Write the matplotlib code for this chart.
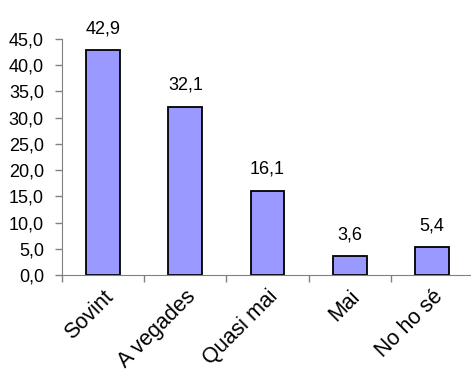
import numpy as np
import matplotlib
matplotlib.use("Agg")
import matplotlib.pyplot as plt

plt.rcParams["font.family"] = ["Liberation Sans", "DejaVu Sans"]

categories = ["Sovint", "A vegades", "Quasi mai", "Mai", "No ho sé"]
values = [42.9, 32.1, 16.1, 3.6, 5.4]
yticks = [0, 5, 10, 15, 20, 25, 30, 35, 40, 45]

FS = 13

fig = plt.figure(figsize=(4.71, 3.73), dpi=100)
ax = fig.add_axes([62 / 471, 98 / 373, 411 / 471, 236 / 373])

x = np.arange(len(categories))
ax.bar(x, values, width=0.41, color="#9999FF", edgecolor="black", linewidth=1.3)

# value labels above the bars, decimal comma
for xi, v in zip(x, values):
    ax.annotate(f"{v:.1f}".replace(".", ","), (xi, v), xytext=(0, 12),
                textcoords="offset points", ha="center", va="baseline", fontsize=FS)

ax.set_xlim(-0.5, len(categories) - 0.5)
ax.set_ylim(0, 45)
ax.set_yticks(yticks)
ax.set_yticklabels([f"{t:.1f}".replace(".", ",") for t in yticks], fontsize=FS)

ax.set_xticks(x)
ax.set_xticklabels(categories, rotation=45, ha="right", rotation_mode="anchor", fontsize=15.5)
ax.set_xticks(np.arange(len(categories) + 1) - 0.5, minor=True)
ax.tick_params(axis="x", which="major", length=0, pad=8)
ax.tick_params(axis="x", which="minor", length=5, color="#808080", width=1)
ax.tick_params(axis="y", length=5, color="#808080", width=1, pad=8)

for s in ["top", "right"]:
    ax.spines[s].set_visible(False)
for s in ["left", "bottom"]:
    ax.spines[s].set_color("#808080")

fig.savefig("out.png", dpi=100)
